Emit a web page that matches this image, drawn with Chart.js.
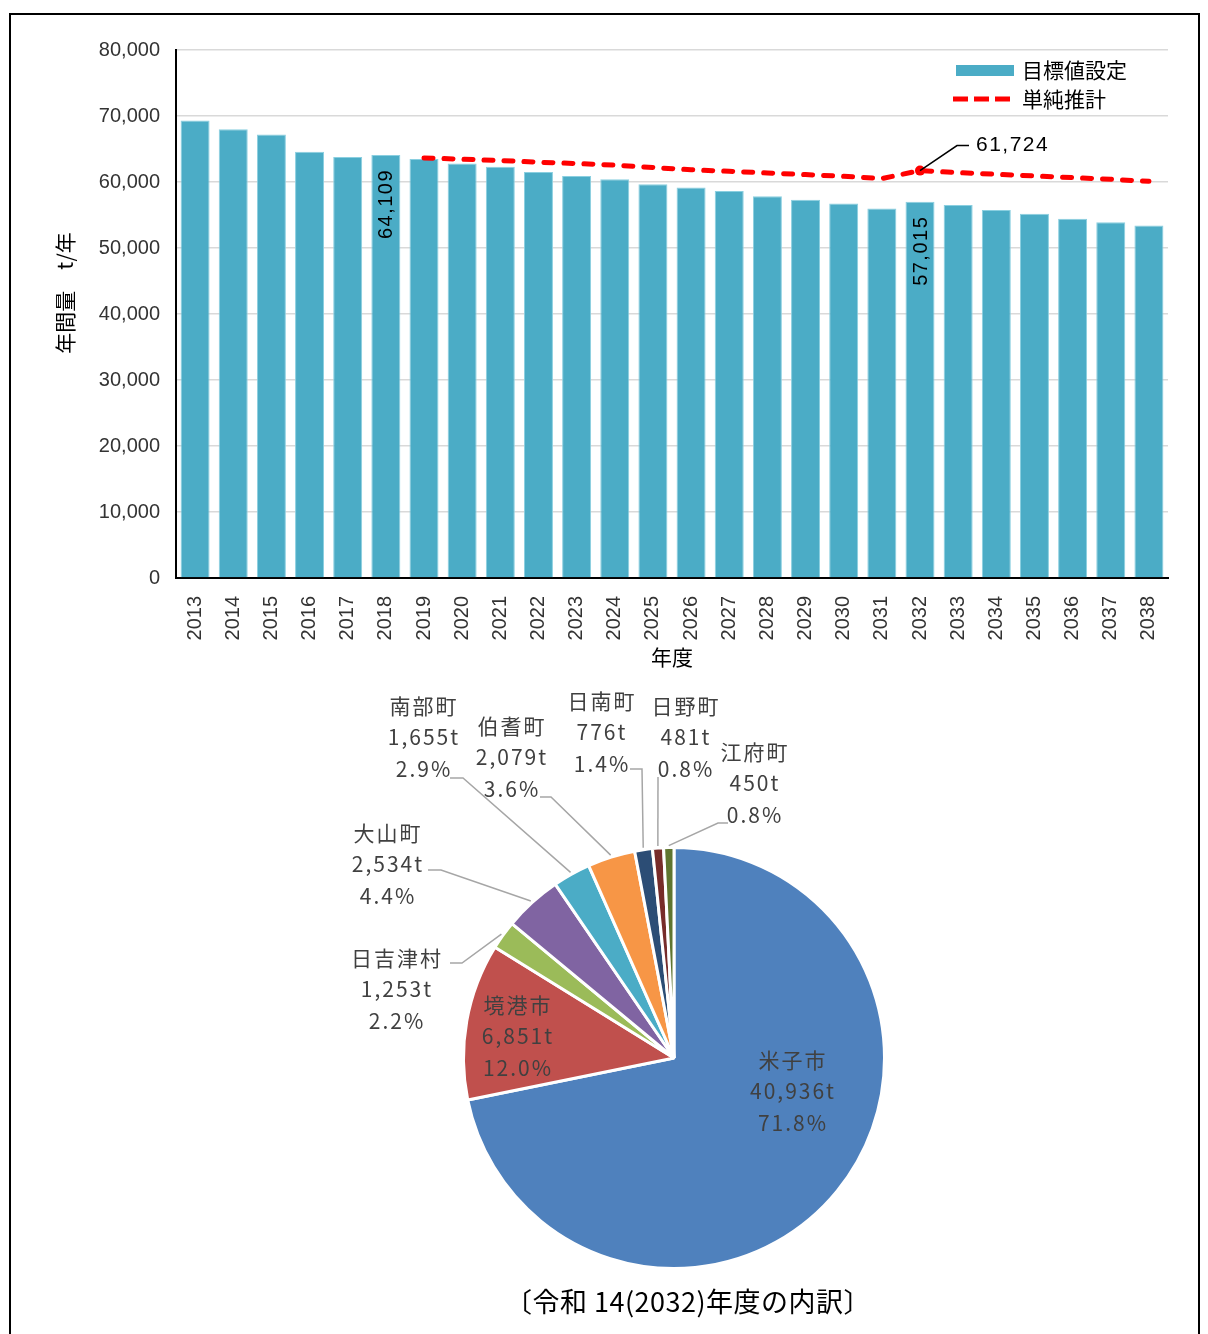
<!DOCTYPE html>
<html lang="ja">
<head>
  <meta charset="UTF-8" />
  <title>年間量の推移と令和14年度の内訳</title>
  <script src="https://cdn.jsdelivr.net/npm/chart.js"></script>
  <style>
    body {
      margin: 0;
      background: #fff;
      font-family: "Noto Sans CJK JP", sans-serif;
    }
    #wrap {
      position: relative;
      width: 1208px;
      height: 1334px;
      overflow: hidden;
    }
    #frame {
      position: absolute;
      left: 9px;
      top: 13px;
      width: 1187px;
      height: 1400px;
      border: 2px solid #000;
    }
    #barChart { position: absolute; left: 0; top: 0; }
    #pieChart { position: absolute; left: 0; top: 680px; }
    #caption {
      position: absolute;
      left: 0;
      width: 1376px;
      top: 1281px;
      text-align: center;
      font-size: 27px;
      letter-spacing: 0.5px;
      color: #000;
    }
  </style>
</head>
<body>
  <div id="wrap">
    <div id="frame"></div>
    <canvas id="barChart" width="1208" height="680"></canvas>
    <canvas id="pieChart" width="1208" height="654"></canvas>
    <div id="caption">〔令和 14(2032)年度の内訳〕</div>
  </div>

  <script>
    // --- data ---
    const years = ['2013', '2014', '2015', '2016', '2017', '2018', '2019', '2020', '2021', '2022', '2023', '2024', '2025',
                   '2026', '2027', '2028', '2029', '2030', '2031', '2032', '2033', '2034', '2035', '2036', '2037', '2038'];
    const targetValues = [69300, 68000, 67200, 64600, 63800, 64109, 63500, 62800, 62300, 61500, 60900, 60400, 59650,
                          59150, 58650, 57850, 57300, 56750, 56000, 57015, 56500, 55750, 55200, 54450, 53900, 53400];
    const trendValues = [null, null, null, null, null, null, 63650, 63450, 63250, 63000, 62800, 62550, 62200,
                         61850, 61620, 61370, 61120, 60860, 60520, 61724, 61420, 61170, 60920, 60660, 60410, 60100];
    const barNoteYears = ['2018', '2032'];
    const trendNoteYears = ['2032'];
    const yTickMax = 80000;
    const yTickStep = 10000;

    const towns = ['米子市', '境港市', '日吉津村', '大山町', '南部町', '伯耆町', '日南町', '日野町', '江府町'];
    const townTonnes = [40936, 6851, 1253, 2534, 1655, 2079, 776, 481, 450];

    // --- layout / style ---
    const townColors = ['#4F81BD', '#C0504D', '#9BBB59', '#8064A2', '#4BACC6', '#F79646', '#2C4D75', '#772C2A', '#5F7530'];
    // label block offsets from pie centre (first line)
    const pieLabelAt = [[119, 2], [-156, -53], [-277, -100], [-286, -225], [-250, -352],
                        [-162, -332], [-72, -357], [12, -352], [81, -306]];
    // leader start x, y, elbow x (relative to pie centre)
    const pieLeaders = [null, null, [-224, -95, -212], [-246, -188, -233], [-224, -280, -211],
                        [-134, -261, -123], [-44, -289, -32], [-16, -281, -16], [54, -235, 44]];

    const fmt = v => v.toLocaleString('en-US');
    const latin = '"Liberation Sans", "Noto Sans CJK JP", sans-serif';

    const barNotes = {
      id: 'barNotes',
      afterDatasetsDraw(chart) {
        const ctx = chart.ctx;
        const bars = chart.getDatasetMeta(0).data;
        const pts = chart.getDatasetMeta(1).data;
        ctx.save();
        ctx.fillStyle = '#000';
        ctx.font = '20px ' + latin;
        ctx.letterSpacing = '1.5px';
        barNoteYears.forEach(y => {
          const i = years.indexOf(y);
          const b = bars[i];
          ctx.save();
          ctx.translate(b.x + 1, b.y + 14);
          ctx.rotate(-Math.PI / 2);
          ctx.textAlign = 'right';
          ctx.textBaseline = 'middle';
          ctx.fillText(fmt(targetValues[i]), 0, 0);
          ctx.restore();
        });
        trendNoteYears.forEach(y => {
          const i = years.indexOf(y);
          const p = pts[i];
          ctx.strokeStyle = '#000';
          ctx.lineWidth = 1.5;
          ctx.beginPath();
          ctx.moveTo(p.x, p.y);
          ctx.lineTo(p.x + 37, p.y - 25);
          ctx.lineTo(p.x + 49, p.y - 25);
          ctx.stroke();
          ctx.font = '21px ' + latin;
          ctx.textAlign = 'left';
          ctx.textBaseline = 'middle';
          ctx.fillText(fmt(trendValues[i]), p.x + 56, p.y - 25);
        });

        // legend
        const { right, top } = chart.chartArea;
        ctx.letterSpacing = '0px';
        ctx.fillStyle = '#4BACC6';
        ctx.fillRect(right - 212, top + 15, 58, 11);
        ctx.strokeStyle = '#FF0000';
        ctx.lineWidth = 5;
        ctx.setLineDash([15, 6]);
        ctx.beginPath();
        ctx.moveTo(right - 215, top + 49);
        ctx.lineTo(right - 158, top + 49);
        ctx.stroke();
        ctx.setLineDash([]);
        ctx.fillStyle = '#000';
        ctx.font = '21px "Noto Sans CJK JP", sans-serif';
        ctx.textAlign = 'left';
        ctx.textBaseline = 'middle';
        ctx.fillText('目標値設定', right - 146, top + 20);
        ctx.fillText('単純推計', right - 146, top + 49);
        ctx.restore();
      }
    };

    new Chart(document.getElementById('barChart'), {
      data: {
        labels: years,
        datasets: [{
          type: 'bar',
          label: '目標値設定',
          data: targetValues,
          backgroundColor: '#4BACC6',
          borderColor: '#8ACFE0',
          borderWidth: 1,
          barPercentage: 0.76,
          categoryPercentage: 1,
          order: 1
        }, {
          type: 'line',
          label: '単純推計',
          data: trendValues,
          borderColor: '#FF0000',
          borderWidth: 5,
          borderDash: [9, 11],
          borderCapStyle: 'round',
          tension: 0,
          fill: false,
          pointRadius: ctx => trendNoteYears.includes(years[ctx.dataIndex]) ? 5 : 0,
          pointBackgroundColor: '#FF0000',
          pointBorderWidth: 0,
          order: 0
        }]
      },
      options: {
        responsive: false,
        animation: false,
        layout: { padding: { left: 0, top: 50, right: 40, bottom: 0 } },
        plugins: { legend: { display: false }, tooltip: { enabled: false } },
        scales: {
          x: {
            grid: { display: false },
            border: { display: true, color: '#000', width: 2 },
            ticks: {
              maxRotation: 90, minRotation: 90, padding: 10,
              color: '#333', font: { family: latin, size: 20 }
            },
            title: {
              display: true, text: '年度', color: '#000',
              font: { family: latin, size: 21 }, padding: { top: 4, bottom: 8 }
            },
            afterFit: s => { s.height = 102; }
          },
          y: {
            min: 0,
            max: yTickMax,
            ticks: {
              stepSize: yTickStep, padding: 16, color: '#333',
              font: { family: latin, size: 20 },
              callback: v => fmt(v)
            },
            grid: { color: '#D9D9D9', lineWidth: 1.5, drawTicks: false },
            border: { display: true, color: '#000', width: 2 },
            title: {
              display: true, text: '\u3000\u3000年間量\u3000t/年', color: '#000',
              font: { family: '"Noto Sans CJK JP", sans-serif', size: 21 }, padding: { top: 52, bottom: 0 }
            },
            afterFit: s => { s.width = 176; }
          }
        }
      },
      plugins: [barNotes]
    });

    const pieNotes = {
      id: 'pieNotes',
      afterDatasetsDraw(chart) {
        const ctx = chart.ctx;
        const arcs = chart.getDatasetMeta(0).data;
        const total = townTonnes.reduce((a, b) => a + b, 0);
        ctx.save();
        ctx.font = '21px "Noto Sans CJK JP", sans-serif';
        ctx.letterSpacing = '2px';
        ctx.fillStyle = '#404040';
        ctx.textAlign = 'center';
        ctx.textBaseline = 'middle';
        arcs.forEach((a, i) => {
          const cx = a.x, cy = a.y;
          const [dx, dy] = pieLabelAt[i];
          const lines = [towns[i], fmt(townTonnes[i]) + 't', (townTonnes[i] / total * 100).toFixed(1) + '%'];
          lines.forEach((t, k) => ctx.fillText(t, cx + dx, cy + dy + k * 31.5));
          const lead = pieLeaders[i];
          if (lead) {
            const mid = (a.startAngle + a.endAngle) / 2;
            const ex = cx + Math.cos(mid) * (a.outerRadius + 2);
            const ey = cy + Math.sin(mid) * (a.outerRadius + 2);
            ctx.strokeStyle = '#A6A6A6';
            ctx.lineWidth = 1.5;
            ctx.beginPath();
            ctx.moveTo(cx + lead[0], cy + lead[1]);
            ctx.lineTo(cx + lead[2], cy + lead[1]);
            ctx.lineTo(ex, ey);
            ctx.stroke();
          }
        });
        ctx.restore();
      }
    };

    new Chart(document.getElementById('pieChart'), {
      type: 'pie',
      data: {
        labels: towns,
        datasets: [{
          data: townTonnes,
          backgroundColor: townColors,
          borderColor: '#fff',
          borderWidth: 3
        }]
      },
      options: {
        responsive: false,
        animation: false,
        layout: { padding: { left: 462, right: 322, top: 166, bottom: 64 } },
        plugins: { legend: { display: false }, tooltip: { enabled: false } }
      },
      plugins: [pieNotes]
    });
  </script>
</body>
</html>
